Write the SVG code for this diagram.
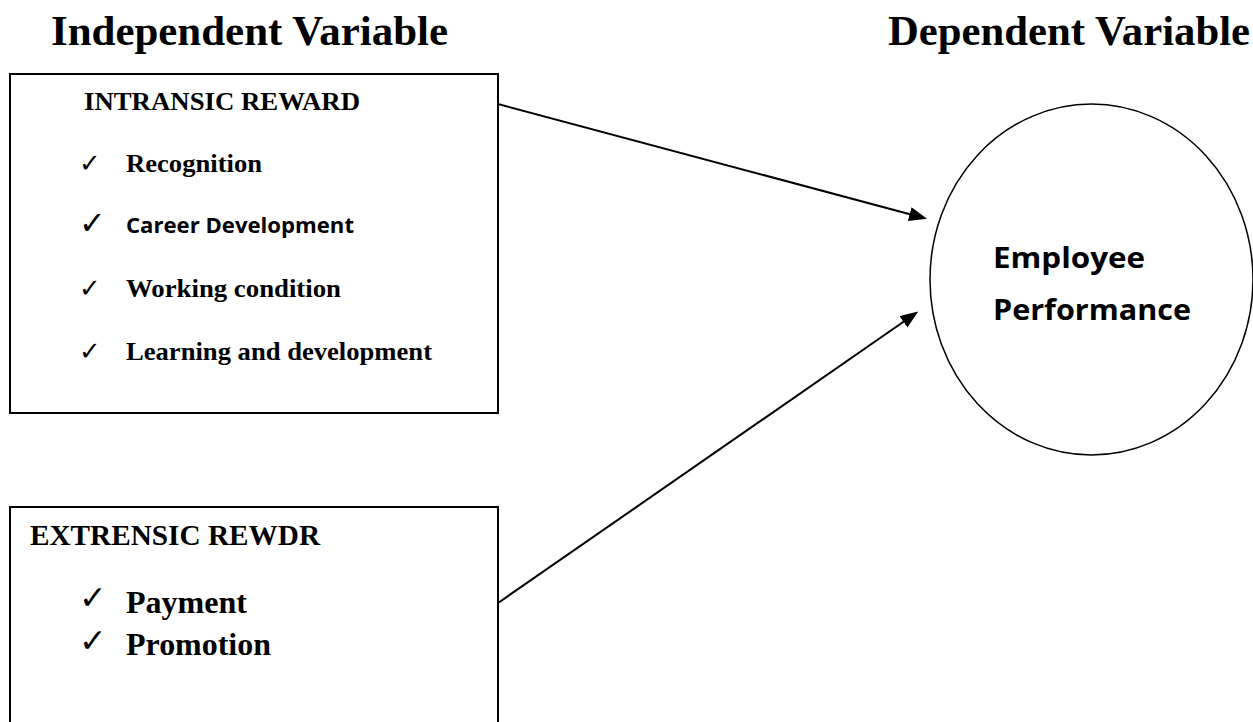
<svg xmlns="http://www.w3.org/2000/svg" width="1253" height="722" viewBox="0 0 1253 722">
<style>
.title{font-family:"Liberation Serif","Times New Roman",serif;font-weight:bold;font-size:43px;fill:#000}
.ser{font-family:"Liberation Serif","Times New Roman",serif;font-weight:bold;fill:#000}
.sans{font-family:"Open Sans","Liberation Sans",sans-serif;font-weight:bold;fill:#000}
.chk{font-family:"DejaVu Sans",sans-serif;fill:#000}
.box{fill:#fff;stroke:#000;stroke-width:2}
.conn{stroke:#000;stroke-width:2;fill:none;marker-end:url(#arr)}
</style>
<defs>
<marker id="arr" markerUnits="userSpaceOnUse" markerWidth="18" markerHeight="14" refX="8" refY="7" orient="auto">
<path d="M0,0 L18,7 L0,14 z" fill="#000"/>
</marker>
</defs>
<rect width="1253" height="722" fill="#fff"/>
<text class="title" x="51" y="45" textLength="397" lengthAdjust="spacingAndGlyphs">Independent Variable</text>
<text class="title" x="888" y="45" textLength="362" lengthAdjust="spacingAndGlyphs">Dependent Variable</text>

<g id="intrinsic">
<rect class="box" x="10" y="74" width="488" height="339"/>
<text class="ser" x="84" y="110" font-size="26" textLength="276" lengthAdjust="spacingAndGlyphs">INTRANSIC REWARD</text>
<text class="chk" x="79" y="172" font-size="26">✓</text>
<text class="ser" x="126" y="172" font-size="26" textLength="136" lengthAdjust="spacingAndGlyphs">Recognition</text>
<text class="chk" x="79" y="234" font-size="32" font-weight="bold">✓</text>
<text class="sans" x="126" y="233" font-size="22" textLength="228" lengthAdjust="spacingAndGlyphs">Career Development</text>
<text class="chk" x="79" y="297" font-size="26">✓</text>
<text class="ser" x="126" y="297" font-size="26" textLength="215" lengthAdjust="spacingAndGlyphs">Working condition</text>
<text class="chk" x="79" y="360" font-size="26">✓</text>
<text class="ser" x="126" y="360" font-size="26" textLength="306" lengthAdjust="spacingAndGlyphs">Learning and development</text>
</g>

<g id="extrinsic">
<rect class="box" x="10" y="507" width="488" height="240"/>
<text class="ser" x="30" y="545" font-size="29" textLength="290" lengthAdjust="spacingAndGlyphs">EXTRENSIC REWDR</text>
<text class="chk" x="79" y="609" font-size="33">✓</text>
<text class="ser" x="126" y="613" font-size="32" textLength="121" lengthAdjust="spacingAndGlyphs">Payment</text>
<text class="chk" x="79" y="652" font-size="33">✓</text>
<text class="ser" x="126" y="655" font-size="32" textLength="145" lengthAdjust="spacingAndGlyphs">Promotion</text>
</g>

<g id="performance">
<ellipse cx="1091.5" cy="279.5" rx="161.5" ry="175.5" fill="#fff" stroke="#000" stroke-width="1.5"/>
<text class="sans" x="993" y="268" font-size="29" textLength="152" lengthAdjust="spacingAndGlyphs">Employee</text>
<text class="sans" x="993" y="320" font-size="29" textLength="198" lengthAdjust="spacingAndGlyphs">Performance</text>
</g>

<g id="connectors">
<line class="conn" x1="498" y1="104" x2="917.4" y2="216.2"/>
<line class="conn" x1="498" y1="603" x2="910" y2="317.3"/>
</g>
</svg>
